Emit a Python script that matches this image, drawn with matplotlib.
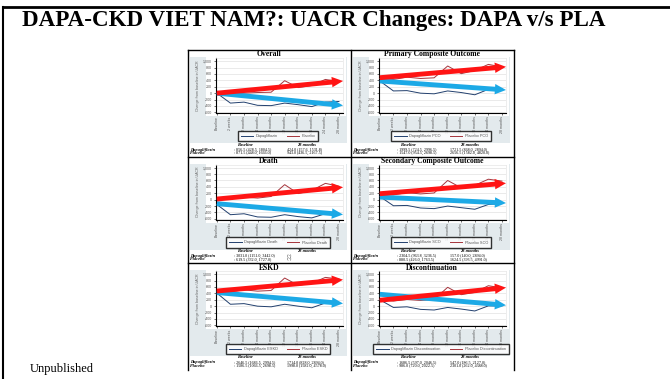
import matplotlib
matplotlib.use("Agg")
import matplotlib.pyplot as plt
from matplotlib.patches import Rectangle
from matplotlib.lines import Line2D

# ── slide geometry (pixels, origin top-left) ────────────────────────────────
W, H = 670, 379
SERIF = ["Liberation Serif", "DejaVu Serif"]
plt.rcParams.update({"font.family": ["Liberation Sans", "DejaVu Sans"]})

# ── visits on the x axis ─────────────────────────────────────────────────────
VISITS = ["Baseline", "2 weeks", "2 months", "4 months", "8 months",
          "12 months", "16 months", "20 months", "24 months", "28 months"]

# change from baseline in UACR, per subgroup
overall_dapa = [0, -310, -280, -380, -390, -310, -360, -420, -280, -260]
overall_pla  = [0, -30, 0, 20, 30, 390, 175, 240, 430, 360]
pco_dapa     = [380, 70, 80, 0, -20, 70, 20, -50, 120, 130]
pco_pla      = [460, 430, 500, 460, 480, 850, 610, 710, 900, 820]
death_dapa   = [-150, -470, -440, -540, -550, -470, -530, -570, -440, -440]
death_pla    = [20, 30, 80, 50, 100, 470, 190, 290, 510, 420]
sco_dapa     = [100, -190, -180, -260, -280, -200, -250, -300, -150, -120]
sco_pla      = [190, 150, 220, 180, 210, 600, 370, 450, 640, 580]
eskd_dapa    = [410, 60, 80, 0, -20, 60, 0, -50, 100, 100]
eskd_pla     = [470, 450, 510, 470, 490, 880, 650, 720, 900, 850]
disc_dapa    = [200, -40, -20, -100, -120, -40, -90, -150, 10, 10]
disc_pla     = [200, 160, 210, 180, 210, 590, 360, 430, 640, 570]

# trend arrows (start, end) drawn over each panel
overall_trend = {"red": (0, 380), "blue": (0, -385)}
pco_trend     = {"red": (484, 825), "blue": (381, 100)}
death_trend   = {"red": (20, 390), "blue": (-125, -465)}
sco_trend     = {"red": (186, 515), "blue": (80, -105)}
eskd_trend    = {"red": (474, 828), "blue": (425, 84)}
disc_trend    = {"red": (186, 580), "blue": (372, 30)}

# median (IQR) UACR at baseline / 28 months
overall_tab = [("856.5 (428.5, 1804.5)", "424.0 (157.6, 1531.8)"),
               ("871.5 (448.0, 1666.0)", "943.0 (436.5, 2167.5)")]
pco_tab     = [("1999.5 (724.5, 2996.5)", "1721.5 (868.0, 2894.0)"),
               ("1547.0 (954.5, 2698.5)", "2656.5 (1582.0, 4820.0)")]
death_tab   = [("3031.0 (1151.0, 3442.0)", "-(-)"),
               ("619.5 (332.0, 1727.0)", "-(-)")]
sco_tab     = [("2304.5 (963.8, 3236.5)", "157.0 (140.0, 2894.0)"),
               ("880.5 (426.0, 1763.5)", "1624.5 (393.5, 4991.0)")]
eskd_tab    = [("2646.5 (1686.5, 2994.5)", "1714.0 (828.0, 2894.0)"),
               ("1586.5 (1066.5, 2698.5)", "1998.0 (1582.0, 4578.0)")]
disc_tab    = [("1686.5 (597.0, 2046.5)", "547.0 (186.5, 2127.0)"),
               ("986.0 (720.0, 2022.5)", "2301.0 (262.0, 4388.0)")]

PANELS = [
    ("Overall", "", overall_dapa, overall_pla, overall_trend, overall_tab),
    ("Primary Composite Outcome", " PCO", pco_dapa, pco_pla, pco_trend, pco_tab),
    ("Death", " Death", death_dapa, death_pla, death_trend, death_tab),
    ("Secondary Composite Outcome", " SCO", sco_dapa, sco_pla, sco_trend, sco_tab),
    ("ESKD", " ESKD", eskd_dapa, eskd_pla, eskd_trend, eskd_tab),
    ("Discontinuation", " Discontinuation", disc_dapa, disc_pla, disc_trend, disc_tab),
]

NAVY, DRED = "#22406e", "#a6343c"
ARROW = {"red": "#ff1414", "blue": "#1ca9e6"}
PANEL_BG = "#e3eaed"


def fx(x): return x / W
def fy(y): return 1 - y / H
def box(l, t, w, h): return [l / W, 1 - (t + h) / H, w / W, h / H]


fig = plt.figure(figsize=(W / 100, H / 100), dpi=100)
fig.patch.set_facecolor("white")

# slide frame + heading
for xs, ys, lw in [([3, W], [7, 7], 2.0), ([3, 3], [7, H], 1.5)]:
    fig.add_artist(Line2D([fx(x) for x in xs], [fy(y) for y in ys], color="black",
                          lw=lw, transform=fig.transFigure))
fig.text(fx(22), fy(26), "DAPA-CKD VIET NAM?: UACR Changes: DAPA v/s PLA", family=SERIF,
         fontsize=16.6, fontweight="bold", ha="left", va="baseline")
fig.text(fx(30), fy(372), "Unpublished", family=SERIF, fontsize=9, ha="left", va="baseline")

PX, PY, PW, PH = 188, 50, 163, 106.5

for i, (title, suffix, dapa, pla, trend, tab) in enumerate(PANELS):
    c, r = i % 2, i // 2
    X0, Y0 = PX + PW * c, PY + PH * r

    fig.add_artist(Rectangle((fx(X0 + 2), fy(Y0 + 93)), 157 / W, 86 / H,
                             transform=fig.transFigure, fc=PANEL_BG, ec="none", zorder=0))
    fig.add_artist(Rectangle((fx(X0 + 18), fy(Y0 + 66)), 140 / W, 59 / H,
                             transform=fig.transFigure, fc="white", ec="none", zorder=0))
    fig.text(fx(X0 + 81), fy(Y0 + 4.5), title, family=SERIF, fontsize=5.5,
             fontweight="bold", ha="center", va="center")

    ax = fig.add_axes(box(X0 + 27.5, Y0 + 8, 127.5, 55))
    ax.set_facecolor("white")
    xs = list(range(len(VISITS)))
    ax.plot(xs, dapa, color=NAVY, lw=0.7, label="Dapagliflozin" + suffix, zorder=3)
    ax.plot(xs, pla, color=DRED, lw=0.7, label="Placebo" + suffix, zorder=3)
    ax.set_xlim(-0.1, 9.3)
    ax.set_ylim(-620, 1100)
    ax.set_xticks(xs)
    ax.set_xticklabels(VISITS, rotation=90, fontsize=2.6, color="#555555")
    yt = list(range(-600, 1001, 200))
    ax.set_yticks(yt)
    ax.set_yticklabels([f"{v:,}" for v in yt], fontsize=2.6, color="#555555")
    ax.tick_params(length=1.5, width=0.4, pad=1)
    ax.yaxis.grid(True, color="#e2e2e2", lw=0.5)
    ax.set_axisbelow(True)
    for s in ("left", "bottom"):
        ax.spines[s].set_color("black"); ax.spines[s].set_linewidth(0.8)
    for s in ("top", "right"):
        ax.spines[s].set_color("#e6e6e6"); ax.spines[s].set_linewidth(0.5)
    ax.set_ylabel("Change from baseline in UACR", fontsize=2.6, color="#666666", labelpad=2)

    for key in ("blue", "red"):
        y0, y1 = trend[key]
        ax.annotate("", xy=(9.3, y1), xytext=(0, y0), annotation_clip=False,
                    arrowprops=dict(arrowstyle="simple,head_length=0.8,head_width=0.75,tail_width=0.35",
                                    fc=ARROW[key], ec="none", lw=0, shrinkA=0, shrinkB=0,
                                    mutation_scale=10), zorder=5)

    leg = ax.legend(loc="center", bbox_to_anchor=(fx(X0 + 90), fy(Y0 + 86)),
                    bbox_transform=fig.transFigure, ncol=2, fontsize=2.8, frameon=True,
                    handlelength=3.2, columnspacing=2.4, borderpad=0.5, handletextpad=0.6)
    leg.get_frame().set_edgecolor("black"); leg.get_frame().set_linewidth(1.0)
    leg.get_frame().set_boxstyle("square")
    for t in leg.get_texts():
        t.set_color("#555555")

    fig.text(fx(X0 + 57), fy(Y0 + 94.5), "Baseline", family=SERIF, fontsize=3.2,
             fontweight="bold", style="italic", ha="center", va="center")
    fig.text(fx(X0 + 119), fy(Y0 + 94.5), "28 months", family=SERIF, fontsize=3.2,
             fontweight="bold", style="italic", ha="center", va="center")
    for k, (name, yy) in enumerate([("Dapagliflozin", Y0 + 99.5), ("Placebo", Y0 + 103)]):
        fig.text(fx(X0 + 2), fy(yy), name, family=SERIF, fontsize=3.2, fontweight="bold",
                 style="italic", ha="left", va="center")
        fig.text(fx(X0 + 46), fy(yy), ": " + tab[k][0], family=SERIF, fontsize=3.0,
                 ha="left", va="center")
        fig.text(fx(X0 + 99), fy(yy), tab[k][1], family=SERIF, fontsize=3.0,
                 ha="left", va="center")

# frame around the panel grid
frame = [([PX, PX + 2 * PW], [PY, PY]), ([PX + 2 * PW, PX + 2 * PW], [PY, 370]),
         ([PX, PX], [PY, 370]), ([PX + PW, PX + PW], [PY, 370]),
         ([PX, PX + 2 * PW], [PY + PH, PY + PH]), ([PX, PX + 2 * PW], [PY + 2 * PH, PY + 2 * PH])]
for xs_, ys_ in frame:
    fig.add_artist(Line2D([fx(x) for x in xs_], [fy(y) for y in ys_], color="black",
                          lw=1.0, transform=fig.transFigure))

fig.savefig("out.png", dpi=100, facecolor="white")
